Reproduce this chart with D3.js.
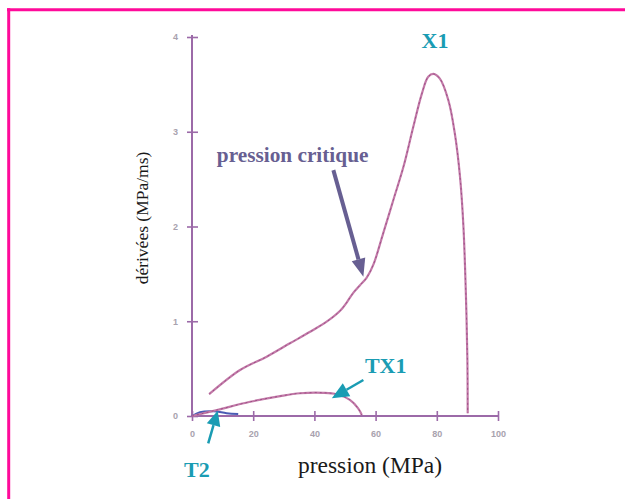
<!DOCTYPE html>
<html>
<head>
<meta charset="utf-8">
<script src="https://cdn.jsdelivr.net/npm/d3@7"></script>
<style>
  body { margin: 0; background: #fff; }
  svg { display: block; }
  .tick text { font-family: "Liberation Sans", Arial, sans-serif; font-size: 9px; font-weight: bold; fill: #a8a2ae; }
  .serif { font-family: "Liberation Serif", "DejaVu Serif", serif; }
</style>
</head>
<body>
<div id="chart"></div>
<script>
// data (pression MPa, dérivée MPa/ms)
var x1P = [5.6, 15.7, 24.4, 32.0, 38.6, 44.0, 48.4, 50.6, 52.7, 54.9, 57.1, 59.3, 62.5, 65.8, 69.1, 72.3, 75.1, 77.2, 78.9, 81.0, 83.8, 85.9, 87.6, 88.7, 89.5, 90.0, 90.1]
var x1D = [0.23, 0.485, 0.626, 0.767, 0.889, 0.995, 1.11, 1.20, 1.30, 1.38, 1.46, 1.60, 1.93, 2.28, 2.63, 3.05, 3.40, 3.58, 3.61, 3.56, 3.33, 2.98, 2.52, 2.00, 1.29, 0.59, 0.03]

var tx1P = [0, 8.1, 19.0, 28.8, 35.3, 42.9, 47.3, 51.6, 54.3, 55.5]
var tx1D = [0, 0.063, 0.15, 0.21, 0.24, 0.245, 0.23, 0.17, 0.08, 0.01]

var t2P = [0, 2.6, 7.0, 11.3, 15.1]
var t2D = [0, 0.04, 0.05, 0.03, 0.02]

var xTicks = [0, 20, 40, 60, 80, 100]
var yTicks = [0, 1, 2, 3, 4]

// annotations in data units: [tail p, tail d, tip p, tip d]
var arrowCritique = [46.2, 2.595, 56.0, 1.47]
var arrowTX1 = [56.0, 0.38, 45.7, 0.187]
var arrowT2 = [5.3, -0.288, 8.4, 0.056]

const W = 625, H = 499

const svg = d3.select("#chart").append("svg")
  .attr("width", W)
  .attr("height", H)

// magenta frame (top and left edges)
svg.append("line").attr("x1", 7).attr("x2", W).attr("y1", 9.8).attr("y2", 9.8)
  .attr("stroke", "#ff0a9a").attr("stroke-width", 3)
svg.append("line").attr("x1", 8.7).attr("x2", 8.7).attr("y1", 8.3).attr("y2", H)
  .attr("stroke", "#ff0a9a").attr("stroke-width", 3)

const xScale = d3.scaleLinear().domain([0, 100]).range([192, 498])
const yScale = d3.scaleLinear().domain([0, 4]).range([416, 37])

const axisColor = "#9c6aa8"

// axes with ticks crossing the line
const xAxis = d3.axisBottom(xScale).tickValues(xTicks).tickFormat(d3.format("d")).tickSize(5).tickPadding(10)
const gx = svg.append("g").attr("transform", "translate(0," + yScale(0) + ")").call(xAxis)
gx.select(".domain").attr("stroke", axisColor).attr("stroke-width", 2)
gx.selectAll(".tick line").attr("y1", -5).attr("y2", 5).attr("stroke", axisColor).attr("stroke-width", 1.6)

const yAxis = d3.axisLeft(yScale).tickValues(yTicks).tickFormat(d3.format("d")).tickSize(6).tickPadding(8)
const gy = svg.append("g").attr("transform", "translate(" + xScale(0) + ",0)").call(yAxis)
gy.select(".domain").attr("stroke", axisColor).attr("stroke-width", 2)
gy.selectAll(".tick line").attr("x1", -5).attr("x2", 6).attr("stroke", axisColor).attr("stroke-width", 1.6)
gx.select(".domain").attr("d", "M" + xScale(0) + ",0H" + xScale(100))
gy.select(".domain").attr("d", "M0," + yScale(0) + "V" + (yScale(4) - 2))

// curves
const line = d3.line()
  .x(d => xScale(d[0]))
  .y(d => yScale(d[1]))
  .curve(d3.curveCatmullRom.alpha(0.5))

function drawCurve(ps, ds, color, w) {
  var pts = ps.map((p, i) => [p, ds[i]])
  svg.append("path").datum(pts)
    .attr("d", line)
    .attr("fill", "none")
    .attr("stroke", color)
    .attr("stroke-width", w)
  return pts
}
drawCurve(t2P, t2D, "#4a5cb4", 2)
var px1 = drawCurve(x1P, x1D, "#c27aa8", 2.2)
var ptx1 = drawCurve(tx1P, tx1D, "#c27aa8", 2.2)
// darker flecks, like the scanned line
;[px1, ptx1].forEach(pts => {
  svg.append("path").datum(pts)
    .attr("d", line)
    .attr("fill", "none")
    .attr("stroke", "#8e3c78")
    .attr("stroke-width", 1)
    .attr("stroke-dasharray", "2 3")
    .attr("opacity", 0.7)
})

// arrows
function arrow(a, color, w, headL, headW) {
  var x0 = xScale(a[0]), y0 = yScale(a[1]), x1 = xScale(a[2]), y1 = yScale(a[3])
  var ang = Math.atan2(y1 - y0, x1 - x0)
  var bx = x1 - headL * Math.cos(ang), by = y1 - headL * Math.sin(ang)
  svg.append("line").attr("x1", x0).attr("y1", y0).attr("x2", bx).attr("y2", by)
    .attr("stroke", color).attr("stroke-width", w)
  var nx = -Math.sin(ang) * headW / 2, ny = Math.cos(ang) * headW / 2
  svg.append("path")
    .attr("d", "M" + x1 + "," + y1 + "L" + (bx + nx) + "," + (by + ny) + "L" + (bx - nx) + "," + (by - ny) + "Z")
    .attr("fill", color)
}
arrow(arrowCritique, "#675f92", 4, 18, 14)
arrow(arrowTX1, "#1a9cb3", 2.5, 17, 15)
arrow(arrowT2, "#1a9cb3", 2.5, 15, 14)

// labels
function label(txt, p, d, size, color, anchor) {
  svg.append("text")
    .attr("class", "serif")
    .attr("x", xScale(p)).attr("y", yScale(d))
    .attr("text-anchor", anchor)
    .attr("font-weight", "bold")
    .attr("font-size", size)
    .attr("fill", color)
    .text(txt)
}
label("X1", 79.4, 3.88, 22, "#1a9cb3", "middle")
label("pression critique", 8.1, 2.68, 21.3, "#675f92", "start")
label("TX1", 56.5, 0.45, 22, "#1a9cb3", "start")
label("T2", -2.6, -0.64, 22, "#1a9cb3", "start")

svg.append("text")
  .attr("class", "serif")
  .attr("x", 370).attr("y", 473)
  .attr("text-anchor", "middle")
  .attr("font-size", 23.5)
  .attr("fill", "#1a1a1a")
  .text("pression (MPa)")

svg.append("text")
  .attr("class", "serif")
  .attr("transform", "translate(148,218) rotate(-90)")
  .attr("text-anchor", "middle")
  .attr("font-size", 17.5)
  .attr("fill", "#1a1a1a")
  .text("dérivées (MPa/ms)")
</script>
</body>
</html>
